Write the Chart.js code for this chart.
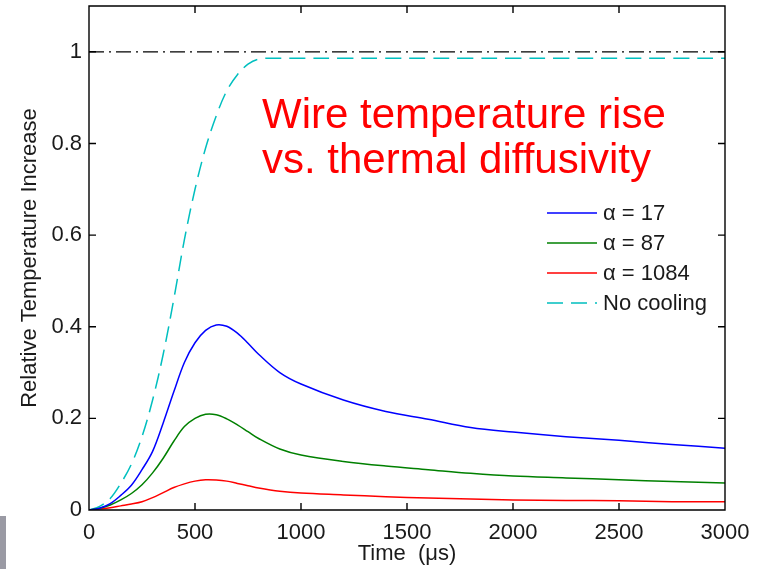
<!DOCTYPE html>
<html>
<head>
<meta charset="utf-8">
<script src="https://cdn.jsdelivr.net/npm/chart.js@4.4.0/dist/chart.umd.min.js"></script>
<style>
    html, body { margin: 0; padding: 0; background: #fff; }
    #wrap { position: relative; width: 762px; height: 569px; }
    #edge { position: absolute; left: 0; top: 516px; width: 6px; height: 53px; background: #9a9aa4; }
</style>
</head>
<body>
<div id="wrap">
    <canvas id="chart" width="762" height="569"></canvas>
    <div id="edge"></div>
</div>
<script>
// time axis (microseconds)
var times = [0, 50, 100, 150, 200, 250, 300, 350, 400, 450, 500, 550, 600, 650, 700, 750, 800,
             900, 1000, 1200, 1400, 1600, 1800, 2000, 2250, 2500, 2750, 3000];

// relative temperature increase per series
var alpha17   = [0, 0.004, 0.014, 0.032, 0.054, 0.088, 0.128, 0.19, 0.258, 0.322, 0.365, 0.392, 0.404, 0.401,
                 0.386, 0.364, 0.34, 0.30, 0.275, 0.24, 0.215, 0.198, 0.18, 0.17, 0.16, 0.152, 0.143, 0.135];
var alpha87   = [0, 0.004, 0.011, 0.022, 0.036, 0.055, 0.081, 0.113, 0.15, 0.182, 0.20, 0.209, 0.208, 0.199,
                 0.186, 0.171, 0.156, 0.133, 0.12, 0.106, 0.096, 0.088, 0.08, 0.074, 0.07, 0.066, 0.062, 0.059];
var alpha1084 = [0, 0.002, 0.005, 0.009, 0.013, 0.018, 0.027, 0.038, 0.049, 0.057, 0.063, 0.066, 0.0655, 0.063,
                 0.058, 0.053, 0.048, 0.041, 0.037, 0.033, 0.029, 0.026, 0.024, 0.022, 0.021, 0.02, 0.018, 0.018];
var noCooling = [0, 0.008, 0.025, 0.058, 0.10, 0.16, 0.24, 0.34, 0.46, 0.59, 0.70, 0.79, 0.86, 0.915,
                 0.95, 0.973, 0.984, 0.986, 0.986, 0.986, 0.986, 0.986, 0.986, 0.986, 0.986, 0.986, 0.986, 0.986];
var limitTimes = [0, 3000];
var limitValues = [1, 1];

var seriesLabels = ["\u03b1 = 17", "\u03b1 = 87", "\u03b1 = 1084", "No cooling"];
var xTicks = [0, 500, 1000, 1500, 2000, 2500, 3000];
var yTicks = [0, 0.2, 0.4, 0.6, 0.8, 1];
var noteLines = ["Wire temperature rise", "vs. thermal diffusivity"];

function pts(xs, ys) {
    return xs.map(function (x, i) { return {x: x, y: ys[i]}; });
}

var fontFamily = "'Liberation Sans', Arial, sans-serif";
var inkColor = '#1a1a1a';

// box with inward ticks on all four sides
var frame = {
    id: 'frame',
    afterDatasetsDraw: function (chart) {
        var ctx = chart.ctx, a = chart.chartArea;
        var xs = chart.scales.x, ys = chart.scales.y;
        var len = 7;
        ctx.save();
        ctx.strokeStyle = '#000';
        ctx.lineWidth = 1.4;
        ctx.beginPath();
        ctx.rect(a.left, a.top, a.right - a.left, a.bottom - a.top);
        xs.ticks.forEach(function (t) {
            var px = xs.getPixelForValue(t.value);
            ctx.moveTo(px, a.bottom); ctx.lineTo(px, a.bottom - len);
            ctx.moveTo(px, a.top); ctx.lineTo(px, a.top + len);
        });
        ys.ticks.forEach(function (t) {
            var py = ys.getPixelForValue(t.value);
            ctx.moveTo(a.left, py); ctx.lineTo(a.left + len, py);
            ctx.moveTo(a.right, py); ctx.lineTo(a.right - len, py);
        });
        ctx.stroke();
        ctx.restore();
    }
};

// legend inside the plot, no box
var insideLegend = {
    id: 'insideLegend',
    afterDraw: function (chart) {
        var ctx = chart.ctx;
        var x0 = 547, x1 = 597, y0 = 213, gap = 30;
        ctx.save();
        ctx.font = '22px ' + fontFamily;
        ctx.textBaseline = 'middle';
        ctx.fillStyle = inkColor;
        seriesLabels.forEach(function (label, i) {
            var ds = chart.data.datasets[i];
            var y = y0 + i * gap;
            ctx.beginPath();
            ctx.strokeStyle = ds.borderColor;
            ctx.lineWidth = ds.borderWidth;
            ctx.setLineDash(ds.borderDash || []);
            ctx.moveTo(x0, y);
            ctx.lineTo(x1, y);
            ctx.stroke();
            ctx.setLineDash([]);
            ctx.fillText(label, x1 + 6, y + 1);
        });
        ctx.restore();
    }
};

// red note in the upper part of the plot
var note = {
    id: 'note',
    afterDraw: function (chart) {
        var ctx = chart.ctx;
        ctx.save();
        ctx.font = '42px ' + fontFamily;
        ctx.fillStyle = '#ff0000';
        ctx.textBaseline = 'alphabetic';
        noteLines.forEach(function (line, i) {
            ctx.fillText(line, 262, 128 + i * 45);
        });
        ctx.restore();
    }
};

var lineBase = {fill: false, pointRadius: 0, borderWidth: 1.5, tension: 0.35};

new Chart(document.getElementById('chart'), {
    type: 'line',
    data: {
        datasets: [
            Object.assign({label: seriesLabels[0], data: pts(times, alpha17), borderColor: '#0000ff'}, lineBase),
            Object.assign({label: seriesLabels[1], data: pts(times, alpha87), borderColor: '#008000'}, lineBase),
            Object.assign({label: seriesLabels[2], data: pts(times, alpha1084), borderColor: '#ff0000'}, lineBase),
            Object.assign({label: seriesLabels[3], data: pts(times, noCooling), borderColor: '#00bfbf',
                borderDash: [16, 8]}, lineBase),
            {label: 'limit', data: pts(limitTimes, limitValues), borderColor: '#000', borderWidth: 1.2,
                borderDash: [15, 5, 2, 5], pointRadius: 0, fill: false}
        ]
    },
    options: {
        responsive: false,
        devicePixelRatio: 1,
        animation: false,
        layout: {padding: {top: 6, right: 37, left: 0, bottom: 0}},
        plugins: {
            legend: {display: false},
            tooltip: {enabled: false}
        },
        scales: {
            x: {
                type: 'linear',
                min: 0,
                max: 3000,
                afterFit: function (scale) {
                    scale.height = 59;
                    scale.paddingLeft = 0;
                    scale.paddingRight = 0;
                },
                afterBuildTicks: function (scale) {
                    scale.ticks = xTicks.map(function (v) { return {value: v}; });
                },
                grid: {display: false, drawTicks: false},
                border: {display: false},
                ticks: {
                    padding: 10,
                    color: inkColor,
                    maxRotation: 0,
                    font: {family: fontFamily, size: 22},
                    callback: function (v) { return String(v); }
                },
                title: {
                    display: true,
                    text: 'Time  (\u03bcs)',
                    color: inkColor,
                    font: {family: fontFamily, size: 22},
                    padding: {top: 0, bottom: 2}
                }
            },
            y: {
                type: 'linear',
                min: 0,
                max: 1.1,
                afterFit: function (scale) {
                    scale.width = 89;
                    scale.paddingTop = 0;
                    scale.paddingBottom = 0;
                },
                afterBuildTicks: function (scale) {
                    scale.ticks = yTicks.map(function (v) { return {value: v}; });
                },
                grid: {display: false, drawTicks: false},
                border: {display: false},
                ticks: {
                    padding: 7,
                    color: inkColor,
                    font: {family: fontFamily, size: 22},
                    callback: function (v) { return String(v); }
                },
                title: {
                    display: true,
                    text: 'Relative Temperature Increase',
                    color: inkColor,
                    font: {family: fontFamily, size: 22},
                    padding: {top: 17, bottom: 0}
                }
            }
        }
    },
    plugins: [frame, insideLegend, note]
});
</script>
</body>
</html>
